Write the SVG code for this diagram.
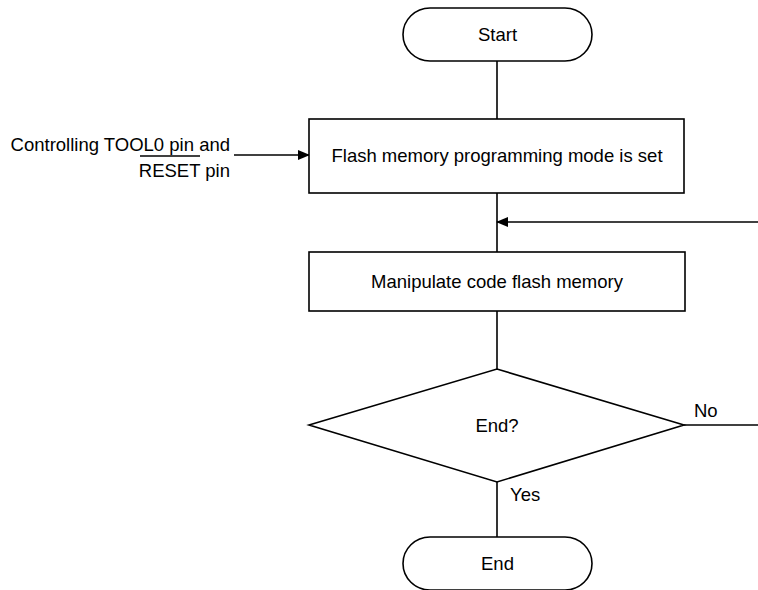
<svg xmlns="http://www.w3.org/2000/svg" width="758" height="590" viewBox="0 0 758 590">
<style>
.s{fill:#fff;stroke:#000;stroke-width:1.6}
.c{fill:none;stroke:#000;stroke-width:1.6}
text{font-family:"Liberation Sans",Arial,sans-serif;font-size:18.5px;fill:#000}
.m{text-anchor:middle}
.e{text-anchor:end}
</style>
<defs>
<marker id="ah" markerWidth="12" markerHeight="10" refX="11" refY="5" orient="auto" markerUnits="userSpaceOnUse">
<path d="M0,0 L12,5 L0,10 Z" fill="#000"/>
</marker>
</defs>
<g id="connectors">
<line class="c" x1="497" y1="61" x2="497" y2="119"/>
<line class="c" x1="234" y1="155" x2="309" y2="155" marker-end="url(#ah)"/>
<line class="c" x1="497" y1="193" x2="497" y2="252"/>
<line class="c" x1="758" y1="222" x2="497" y2="222" marker-end="url(#ah)"/>
<line class="c" x1="497" y1="311" x2="497" y2="369"/>
<line class="c" x1="684" y1="425" x2="758" y2="425"/>
<line class="c" x1="497" y1="482" x2="497" y2="537"/>
<text x="694" y="417">No</text>
<text x="510" y="501">Yes</text>
</g>
<g id="input">
<text class="e" x="230" y="151">Controlling TOOL0 pin and</text>
<text class="e" x="230" y="177">RESET pin</text>
<line class="c" x1="140" y1="156" x2="200" y2="156"/>
</g>
<g id="start">
<rect class="s" x="403" y="8" width="189" height="53" rx="27" ry="26.5"/>
<text class="m" x="497.5" y="41">Start</text>
</g>
<g id="setmode">
<rect class="s" x="309" y="119" width="375" height="74"/>
<text class="m" x="497" y="162">Flash memory programming mode is set</text>
</g>
<g id="manipulate">
<rect class="s" x="309" y="252" width="376" height="59"/>
<text class="m" x="497" y="288">Manipulate code flash memory</text>
</g>
<g id="decision">
<polygon class="s" points="309,425 497,369 684,425 497,482"/>
<text class="m" x="497" y="432">End?</text>
</g>
<g id="end">
<rect class="s" x="403" y="537" width="189" height="53" rx="27" ry="26.5"/>
<text class="m" x="497.5" y="570">End</text>
</g>
</svg>
